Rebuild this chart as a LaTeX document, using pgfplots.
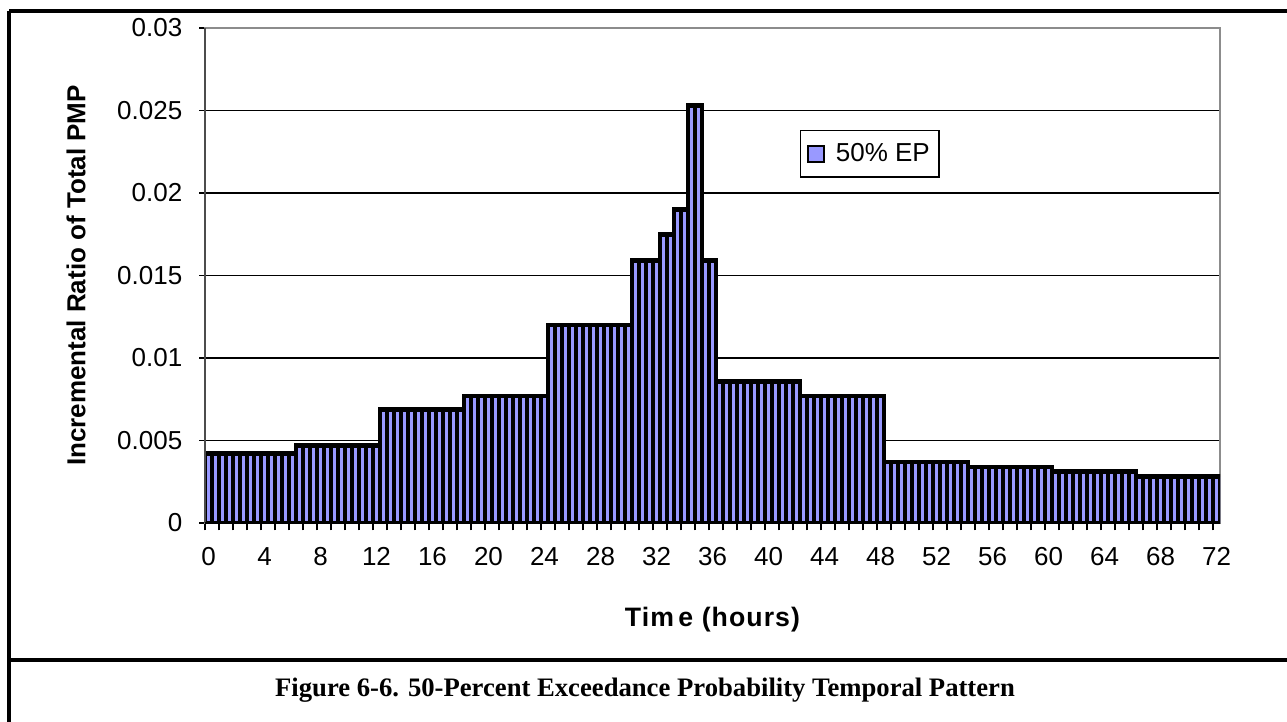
\documentclass[border=0pt]{standalone}
\usepackage{pgfplots}
\pgfplotsset{compat=1.18}
\usepackage{fontspec}
\setmainfont{Liberation Sans}
\newfontfamily\capfont{Liberation Serif}
\newfontfamily\titlefont[LetterSpace=4]{Liberation Sans}
\definecolor{barblue}{HTML}{9999FF}
\definecolor{boxgray}{HTML}{8C8C8C}
\newdimen\px \px=0.75pt

\begin{document}
\begin{tikzpicture}
\path[use as bounding box] (0,0) rectangle (965.25pt,-540.75pt);

% page frame and caption rule
\draw[line width=2.4pt] (9\px,-11\px) -- (1300\px,-11\px);
\draw[line width=2.4pt] (9\px,-11\px) -- (9\px,-740\px);
\draw[line width=2.4pt] (9\px,-660\px) -- (1300\px,-660\px);

\begin{axis}[
  at={(205\px,-523\px)}, anchor=south west,
  scale only axis, width=761.25pt, height=371.25pt,
  xmin=-0.25, xmax=72.25, ymin=0, ymax=0.03,
  ybar, bar width=0.5,
  xtick={0,4,...,72},
  minor xtick={-0.25,0.75,...,71.75},
  ytick={0,0.005,...,0.03},
  yticklabels={0,0.005,0.01,0.015,0.02,0.025,0.03},
  scaled y ticks=false,
  xtick pos=bottom, ytick pos=left,
  tick align=outside,
  major tick length=4.5pt, minor tick length=5.5pt,
  major x tick style={draw=none},
  tick style={black, line width=0.9pt},
  minor tick style={black, line width=0.9pt},
  ymajorgrids, major grid style={black, line width=0.9pt},
  axis line style={draw=boxgray, line width=2.2pt},
  /pgf/number format/assume math mode=true,
  tick label style={font=\fontsize{19.5}{22}\selectfont},
  xticklabel style={anchor=north, text height=14pt, text depth=0pt, yshift=-10pt},
  yticklabel style={xshift=-9pt},
  xlabel={Tim\,e (hours)},
  ylabel={Incremental Ratio of Total PMP},
  every axis x label/.style={at={(axis description cs:0.5,-0.196)}, anchor=center,
    font=\titlefont\fontsize{20}{24}\selectfont\bfseries},
  every axis y label/.style={at={(axis description cs:-0.127,0.5)}, anchor=center, rotate=90,
    font=\fontsize{19.5}{22}\selectfont\bfseries},
  legend style={at={(axis description cs:0.655,0.746)}, anchor=center,
    draw=black, line width=1pt, font=\fontsize{19.5}{22}\selectfont,
    inner xsep=5pt, inner ysep=8pt, column sep=6pt},
  legend image code/.code={\draw[fill=barblue, draw=black, line width=1.5pt]
    (0pt,-6pt) rectangle (12pt,6pt);},
  extra description/.code={
    \draw[line width=1.6pt, draw=black!70] (rel axis cs:0,1) -- (rel axis cs:0,0);
    \draw[line width=1.6pt, draw=black] (rel axis cs:0,0) -- (rel axis cs:1,0);
  },
]
% half-hourly incremental ratio of total PMP
\addplot[fill=barblue, draw=black, line width=3.6pt] coordinates {
 (0,0.0042) (0.5,0.0042) (1,0.0042) (1.5,0.0042) (2,0.0042) (2.5,0.0042) (3,0.0042)
 (3.5,0.0042) (4,0.0042) (4.5,0.0042) (5,0.0042) (5.5,0.0042) (6,0.0042)
 (6.5,0.0047) (7,0.0047) (7.5,0.0047) (8,0.0047) (8.5,0.0047) (9,0.0047)
 (9.5,0.0047) (10,0.0047) (10.5,0.0047) (11,0.0047) (11.5,0.0047) (12,0.0047)
 (12.5,0.0069) (13,0.0069) (13.5,0.0069) (14,0.0069) (14.5,0.0069) (15,0.0069)
 (15.5,0.0069) (16,0.0069) (16.5,0.0069) (17,0.0069) (17.5,0.0069) (18,0.0069)
 (18.5,0.0077) (19,0.0077) (19.5,0.0077) (20,0.0077) (20.5,0.0077) (21,0.0077)
 (21.5,0.0077) (22,0.0077) (22.5,0.0077) (23,0.0077) (23.5,0.0077) (24,0.0077)
 (24.5,0.0120) (25,0.0120) (25.5,0.0120) (26,0.0120) (26.5,0.0120) (27,0.0120)
 (27.5,0.0120) (28,0.0120) (28.5,0.0120) (29,0.0120) (29.5,0.0120) (30,0.0120)
 (30.5,0.0159) (31,0.0159) (31.5,0.0159) (32,0.0159)
 (32.5,0.0175) (33,0.0175)
 (33.5,0.0190) (34,0.0190)
 (34.5,0.0253) (35,0.0253)
 (35.5,0.0159) (36,0.0159)
 (36.5,0.0086) (37,0.0086) (37.5,0.0086) (38,0.0086) (38.5,0.0086) (39,0.0086)
 (39.5,0.0086) (40,0.0086) (40.5,0.0086) (41,0.0086) (41.5,0.0086) (42,0.0086)
 (42.5,0.0077) (43,0.0077) (43.5,0.0077) (44,0.0077) (44.5,0.0077) (45,0.0077)
 (45.5,0.0077) (46,0.0077) (46.5,0.0077) (47,0.0077) (47.5,0.0077) (48,0.0077)
 (48.5,0.0037) (49,0.0037) (49.5,0.0037) (50,0.0037) (50.5,0.0037) (51,0.0037)
 (51.5,0.0037) (52,0.0037) (52.5,0.0037) (53,0.0037) (53.5,0.0037) (54,0.0037)
 (54.5,0.0034) (55,0.0034) (55.5,0.0034) (56,0.0034) (56.5,0.0034) (57,0.0034)
 (57.5,0.0034) (58,0.0034) (58.5,0.0034) (59,0.0034) (59.5,0.0034) (60,0.0034)
 (60.5,0.0031) (61,0.0031) (61.5,0.0031) (62,0.0031) (62.5,0.0031) (63,0.0031)
 (63.5,0.0031) (64,0.0031) (64.5,0.0031) (65,0.0031) (65.5,0.0031) (66,0.0031)
 (66.5,0.0028) (67,0.0028) (67.5,0.0028) (68,0.0028) (68.5,0.0028) (69,0.0028)
 (69.5,0.0028) (70,0.0028) (70.5,0.0028) (71,0.0028) (71.5,0.0028) (72,0.0028)
};
\addlegendentry{50\% EP}
\end{axis}

\node[font=\capfont\bfseries\fontsize{20}{24}\selectfont, anchor=center] at (645\px,-690\px)
  {Figure 6-6. 50-Percent Exceedance Probability Temporal Pattern};
\end{tikzpicture}
\end{document}
